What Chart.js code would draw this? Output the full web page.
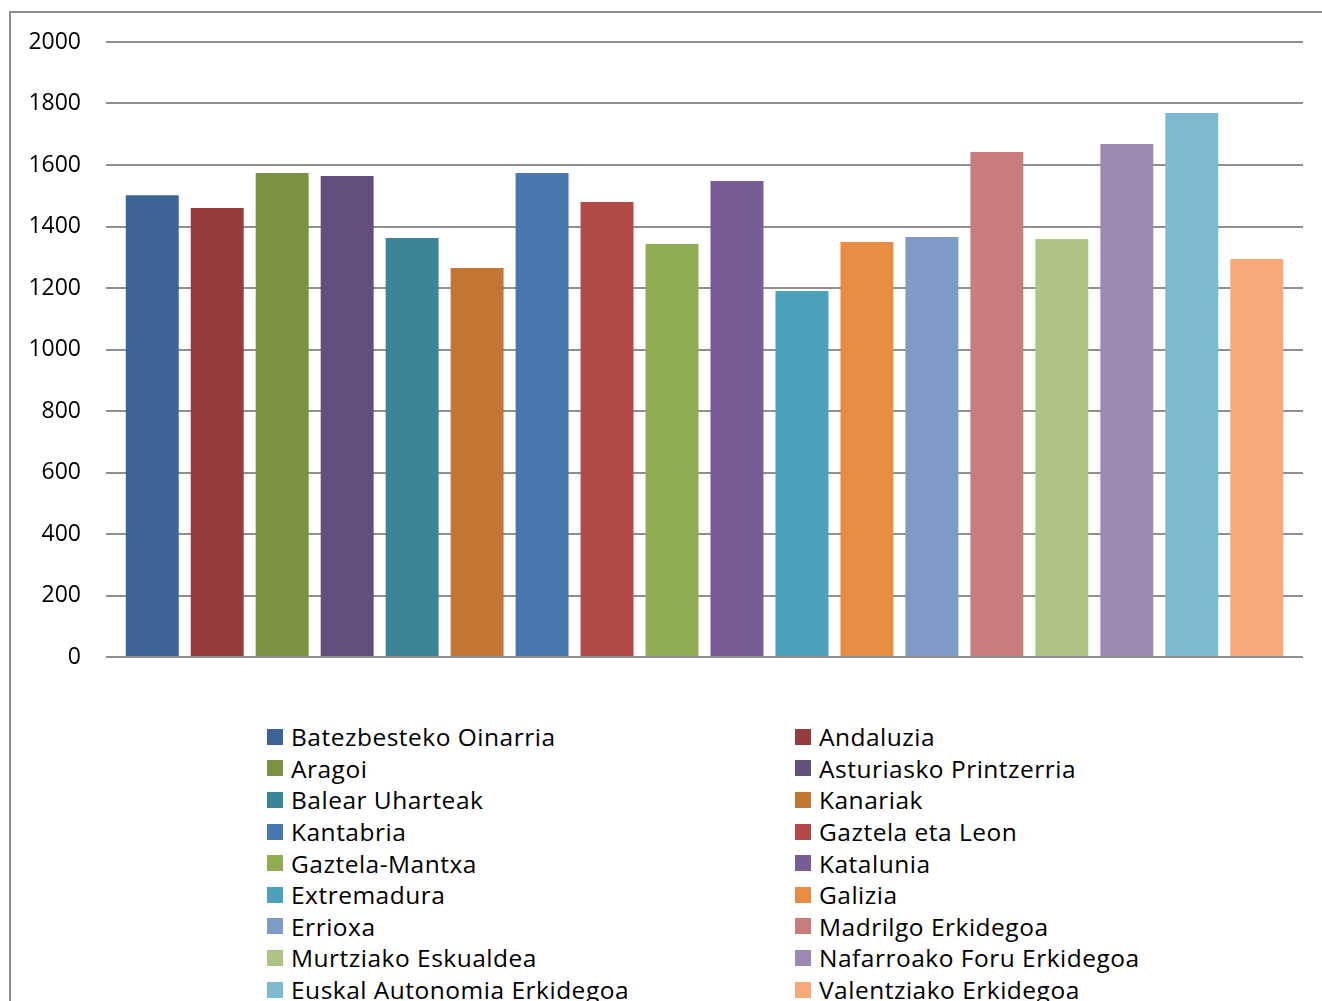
<!DOCTYPE html>
<html>
<head>
<meta charset="utf-8">
<script src="https://cdn.jsdelivr.net/npm/chart.js@4"></script>
<style>
	body { margin: 0; width: 1322px; height: 1001px; overflow: hidden; background: #fff; position: relative; font-family: "Open Sans", sans-serif; }
	#frame { position: absolute; left: 9px; top: 11px; width: 1400px; height: 1100px; border-top: 2px solid #8e8e8e; border-left: 2px solid #8e8e8e; }
	#wrap { position: absolute; left: 0; top: 0; width: 1322px; height: 700px; }
	#legend { position: absolute; left: 267px; top: 721px; width: 1000px; display: grid; grid-template-columns: 528px 400px; grid-auto-rows: 31.6px; }
	.item { display: flex; align-items: center; font-size: 24.5px; letter-spacing: 0.5px; color: #000; white-space: nowrap; }
	.box { width: 16px; height: 16px; margin-right: 8px; flex: none; }
</style>
</head>
<body>
<div id="frame"></div>
<div id="wrap"><canvas id="chart"></canvas></div>
<div id="legend"></div>
<script>
	var regions = ['Batezbesteko Oinarria', 'Andaluzia', 'Aragoi', 'Asturiasko Printzerria', 'Balear Uharteak', 'Kanariak', 'Kantabria', 'Gaztela eta Leon', 'Gaztela-Mantxa', 'Katalunia', 'Extremadura', 'Galizia', 'Errioxa', 'Madrilgo Erkidegoa', 'Murtziako Eskualdea', 'Nafarroako Foru Erkidegoa', 'Euskal Autonomia Erkidegoa', 'Valentziako Erkidegoa']
	var values = [1502, 1460, 1574, 1564, 1363, 1265, 1574, 1480, 1343, 1548, 1190, 1350, 1366, 1642, 1359, 1668, 1769, 1294]
	var colors = ['#3c6496', '#963c3c', '#7a9342', '#634e7e', '#3a8598', '#c37533', '#4877b0', '#b24a48', '#8fae54', '#775c95', '#4aa1b9', '#e78c42', '#7e9bc8', '#c97c7c', '#adc584', '#9c8ab3', '#7db9cf', '#f6a979']

	var ctx = document.getElementById('chart').getContext('2d');
	var chart = new Chart(ctx, {
	    type: 'bar',
	    data: {
	        labels: [''],
	        datasets: regions.map((name, i) => ({
	            label: name,
	            backgroundColor: colors[i],
	            data: [values[i]]
	        }))
	    },
	    options: {
	        responsive: true,
	        maintainAspectRatio: false,
	        animation: false,
	        datasets: { bar: { categoryPercentage: 0.977, barPercentage: 0.815 } },
	        layout: { padding: { left: 0, right: 19, top: 42, bottom: 43 } },
	        plugins: { legend: { display: false }, tooltip: { enabled: false } },
	        scales: {
	            x: { display: false },
	            y: {
	                min: 0, max: 2000,
	                afterFit: (scale) => { scale.width = 106 },
	                border: { display: false },
	                grid: { color: '#8f8f8f', lineWidth: 2, drawTicks: false },
	                ticks: {
	                    stepSize: 200, padding: 25, color: '#000',
	                    font: { family: 'Open Sans', size: 23 },
	                    callback: (v) => String(v)
	                }
	            }
	        }
	    }
	});

	// legend in two columns, like the original
	var legend = document.getElementById('legend');
	legend.innerHTML = regions.map((name, i) => `<div class="item"><span class="box" style="background:${colors[i]}"></span>${name}</div>`).join('');
</script>
</body>
</html>
